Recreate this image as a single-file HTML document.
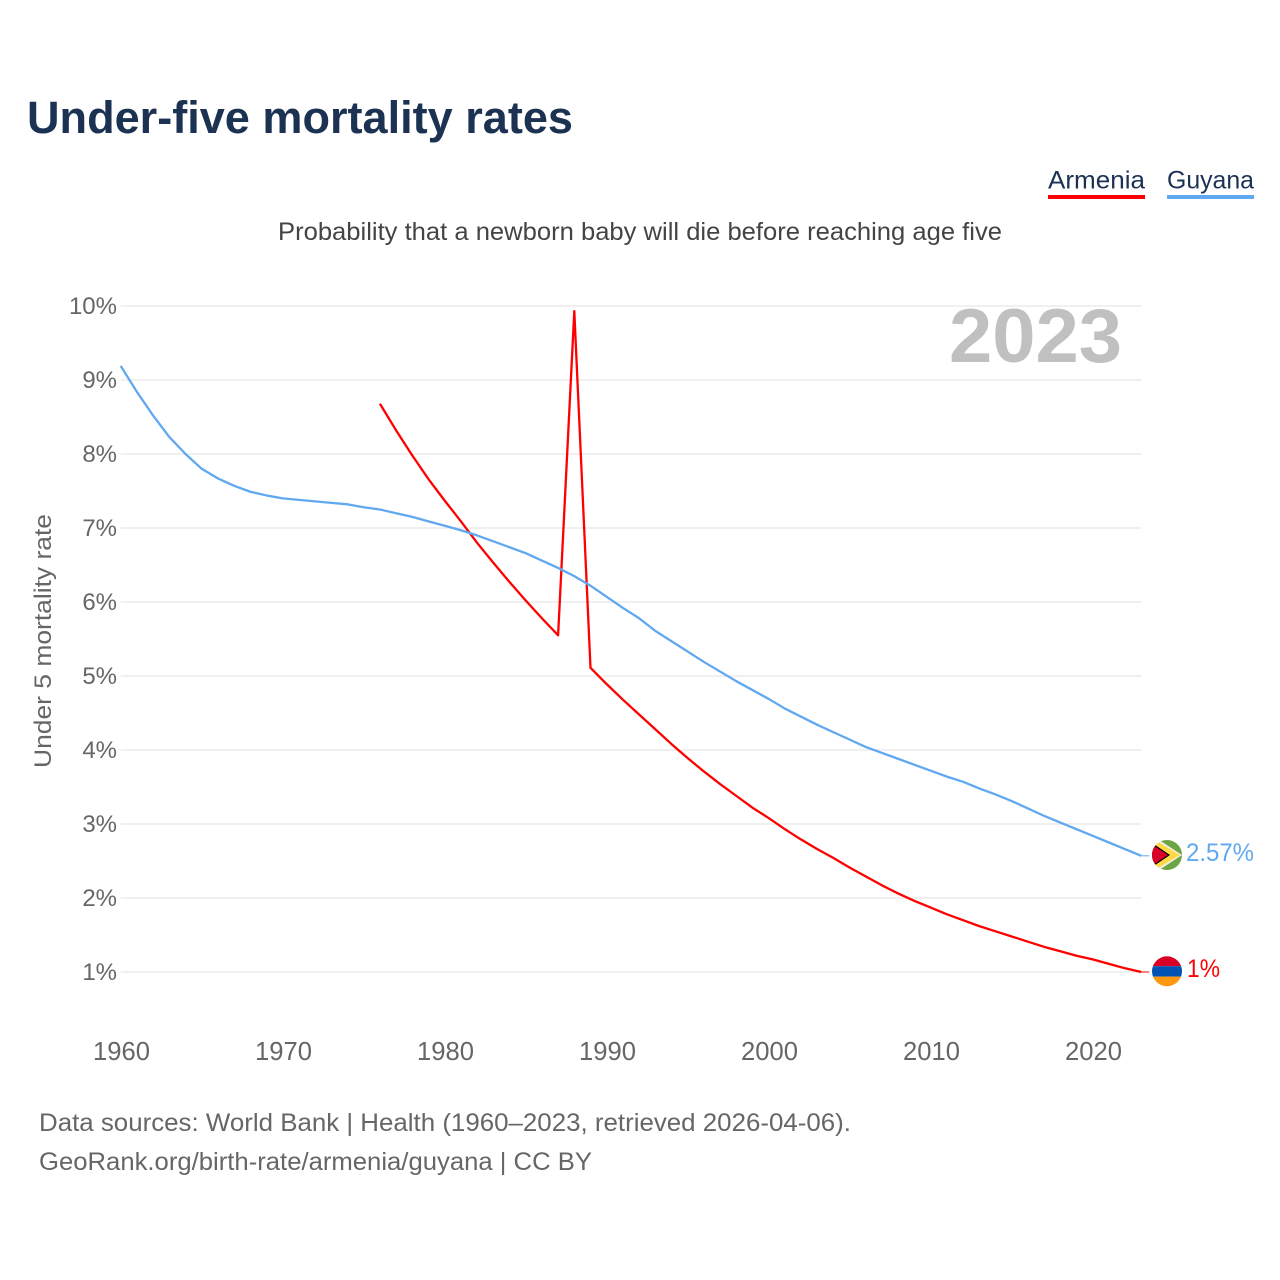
<!DOCTYPE html>
<html lang="en">
<head>
<meta charset="utf-8">
<title>Under-five mortality rates</title>
<style>
html,body{margin:0;padding:0;background:#fff;width:1280px;height:1280px;overflow:hidden}
svg{display:block}
text{font-family:"Liberation Sans",sans-serif}
</style>
</head>
<body>
<svg id="chart" xmlns="http://www.w3.org/2000/svg" width="1280" height="1280" viewBox="0 0 1280 1280">
  <defs>
    <clipPath id="flag-clip-g"><circle cx="1167" cy="855" r="15"/></clipPath>
    <clipPath id="flag-clip-a"><circle cx="1167" cy="971.3" r="15"/></clipPath>
  </defs>
  <text x="27" y="133" font-size="45" font-weight="700" fill="#1b3253" textLength="546" lengthAdjust="spacingAndGlyphs">Under-five mortality rates</text>

  <g>
    <text x="1048" y="188.5" font-size="25" fill="#1b3253" textLength="97" lengthAdjust="spacingAndGlyphs">Armenia</text>
    <rect x="1048" y="195" width="97" height="4" fill="#ff0000"/>
  </g>
  <g>
    <text x="1167" y="188.5" font-size="25" fill="#1b3253" textLength="87" lengthAdjust="spacingAndGlyphs">Guyana</text>
    <rect x="1167" y="195" width="87" height="4" fill="#60a8f0"/>
  </g>

  <text x="278" y="240" font-size="25" fill="#444444" textLength="724" lengthAdjust="spacingAndGlyphs">Probability that a newborn baby will die before reaching age five</text>

  <g id="grid"></g>
  <g id="y-ticks"></g>
  <g id="x-ticks"></g>

  <text transform="translate(51,641) rotate(-90)" text-anchor="middle" font-size="24.5" fill="#666666" textLength="254" lengthAdjust="spacingAndGlyphs">Under 5 mortality rate</text>

  <text x="949" y="362" font-size="76" font-weight="700" fill="#c0c0c0" textLength="173" lengthAdjust="spacingAndGlyphs">2023</text>

  <g id="series"></g>

  <g clip-path="url(#flag-clip-g)">
    <rect x="1150" y="838" width="34" height="34" fill="#6da544"/>
    <polygon points="1150,834 1182,855 1150,876" fill="#f0f0f0"/>
    <polygon points="1150,837 1180,855 1150,873" fill="#ffda44"/>
    <polygon points="1150,841.5 1170,855 1150,868.5" fill="#000000"/>
    <polygon points="1150,843 1168,855 1150,867" fill="#d80027"/>
  </g>
  <g clip-path="url(#flag-clip-a)">
    <rect x="1152" y="956" width="30" height="10.2" fill="#d80027"/>
    <rect x="1152" y="966.2" width="30" height="10.4" fill="#0052b4"/>
    <rect x="1152" y="976.6" width="30" height="10.4" fill="#ff9811"/>
  </g>

  <text x="1186" y="861" font-size="25" fill="#60a8f0" textLength="68" lengthAdjust="spacingAndGlyphs">2.57%</text>
  <text x="1187" y="977" font-size="25" fill="#ff0000" textLength="33" lengthAdjust="spacingAndGlyphs">1%</text>

  <text x="39" y="1131" font-size="25" fill="#666666" textLength="812" lengthAdjust="spacingAndGlyphs">Data sources: World Bank | Health (1960–2023, retrieved 2026-04-06).</text>
  <text x="39" y="1170" font-size="25" fill="#666666" textLength="553" lengthAdjust="spacingAndGlyphs">GeoRank.org/birth-rate/armenia/guyana | CC BY</text>
</svg>
<script>
const yTickValues = [1, 2, 3, 4, 5, 6, 7, 8, 9, 10];
const xTickYears = [1960, 1970, 1980, 1990, 2000, 2010, 2020];
const guyanaStartYear = 1960;
const guyanaValues = [9.19, 8.84, 8.52, 8.23, 8.0, 7.8, 7.67, 7.57, 7.49, 7.44,
  7.40, 7.38, 7.36, 7.34, 7.32, 7.28, 7.25, 7.2, 7.15, 7.09,
  7.03, 6.97, 6.9, 6.82, 6.74, 6.66, 6.56, 6.46, 6.35, 6.22,
  6.07, 5.92, 5.78, 5.61, 5.47, 5.33, 5.19, 5.06, 4.93, 4.81,
  4.69, 4.56, 4.45, 4.34, 4.24, 4.14, 4.04, 3.96, 3.88, 3.8,
  3.72, 3.64, 3.57, 3.48, 3.4, 3.31, 3.21, 3.11, 3.02, 2.93,
  2.84, 2.75, 2.66, 2.57];
const armeniaStartYear = 1976;
const armeniaValues = [8.68, 8.32, 7.98, 7.66, 7.37, 7.09, 6.8, 6.53, 6.27, 6.02,
  5.78, 5.55, 9.93, 5.11, 4.89, 4.68, 4.48, 4.28, 4.08, 3.89,
  3.71, 3.54, 3.38, 3.22, 3.08, 2.93, 2.79, 2.66, 2.54, 2.41,
  2.29, 2.17, 2.06, 1.96, 1.87, 1.78, 1.7, 1.62, 1.55, 1.48,
  1.41, 1.34, 1.28, 1.22, 1.17, 1.11, 1.05, 1.0];

const NS = 'http://www.w3.org/2000/svg';
const xScale = year => 120.7 + (year - 1960) * 16.2;
const yScale = value => 972 - (value - 1) * 74;
const gridEl = document.getElementById('grid');
const yTicksEl = document.getElementById('y-ticks');
const xTicksEl = document.getElementById('x-ticks');
const seriesEl = document.getElementById('series');

yTickValues.forEach(v => {
  const line = document.createElementNS(NS, 'line');
  
  
  line.setAttribute('x1', xScale(1960));
  line.setAttribute('x2', xScale(2023));
  line.setAttribute('y1', yScale(v));
  line.setAttribute('y2', yScale(v));
  line.setAttribute('stroke', '#f0f0f0');
  line.setAttribute('stroke-width', '2');
  gridEl.appendChild(line);

  const label = document.createElementNS(NS, 'text');
  
  
  label.setAttribute('x', 117);
  label.setAttribute('y', yScale(v) + 7.8);
  label.setAttribute('text-anchor', 'end');
  label.setAttribute('font-size', '24');
  label.setAttribute('fill', '#666666');
  label.textContent = v + '%';
  yTicksEl.appendChild(label);
});

xTickYears.forEach(year => {
  const label = document.createElementNS(NS, 'text');
  
  
  label.setAttribute('x', xScale(year) + 0.8);
  label.setAttribute('y', 1060);
  label.setAttribute('text-anchor', 'middle');
  label.setAttribute('font-size', '25.6');
  label.setAttribute('fill', '#666666');
  label.textContent = year;
  xTicksEl.appendChild(label);
});

function pathFor(startYear, values) {
  return values.map((v, i) => (i ? 'L' : 'M') + xScale(startYear + i).toFixed(2) + ' ' + yScale(v).toFixed(2)).join(' ');
}

function connector(lastValue, color) {
  const tail = document.createElementNS(NS, 'line');
  
  
  tail.setAttribute('x1', xScale(2023));
  tail.setAttribute('x2', xScale(2023) + 8);
  tail.setAttribute('y1', yScale(lastValue));
  tail.setAttribute('y2', yScale(lastValue));
  tail.setAttribute('stroke', color);
  tail.setAttribute('stroke-width', '1');
  seriesEl.appendChild(tail);
}

const armeniaLine = document.createElementNS(NS, 'path');


armeniaLine.setAttribute('d', pathFor(armeniaStartYear, armeniaValues));
armeniaLine.setAttribute('fill', 'none');
armeniaLine.setAttribute('stroke', '#ff0000');
armeniaLine.setAttribute('stroke-width', '2.3');
armeniaLine.setAttribute('stroke-linejoin', 'round');
seriesEl.appendChild(armeniaLine);
connector(armeniaValues[armeniaValues.length - 1], '#ff0000');

const guyanaLine = document.createElementNS(NS, 'path');


guyanaLine.setAttribute('d', pathFor(guyanaStartYear, guyanaValues));
guyanaLine.setAttribute('fill', 'none');
guyanaLine.setAttribute('stroke', '#60a8f0');
guyanaLine.setAttribute('stroke-width', '2.3');
guyanaLine.setAttribute('stroke-linejoin', 'round');
seriesEl.appendChild(guyanaLine);
connector(guyanaValues[guyanaValues.length - 1], '#60a8f0');
</script>
</body>
</html>
